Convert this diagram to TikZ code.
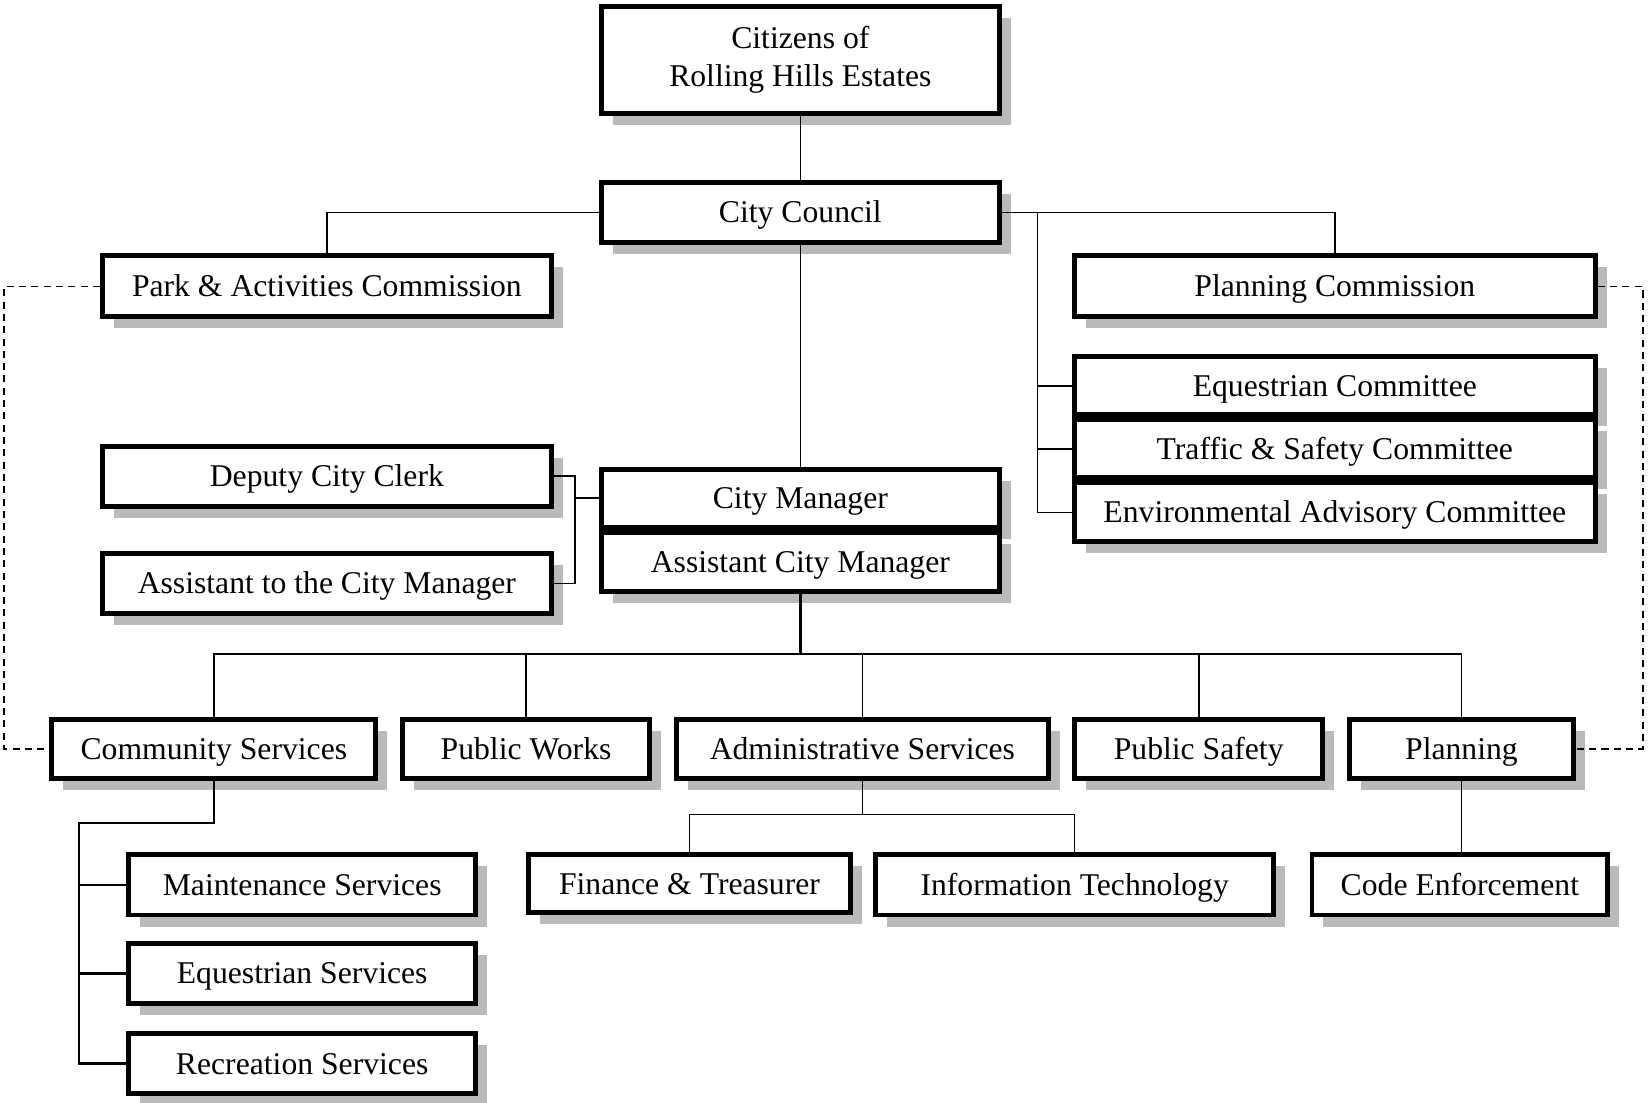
\documentclass[tikz,border=0pt]{standalone}
\usepackage{fontspec}
\setmainfont{Liberation Serif}
\usetikzlibrary{shadows}
\tikzset{
	unit/.style={draw, line width=2.8pt, fill=white, inner sep=0pt, align=center,
		font=\fontsize{18}{21.5}\selectfont, text height=12pt, text depth=0pt,
		drop shadow={shadow xshift=0.23cm, shadow yshift=-0.23cm, fill=black!27, opacity=1}},
	link/.style={line width=0.9pt},
	boldlink/.style={line width=1.5pt},
	dotlink/.style={line width=0.9pt, dash pattern=on 4pt off 3pt},
}

\begin{document}
\begin{tikzpicture}[x=0.021cm, y=-0.021cm]
		%%%%% START %%%%%
		\useasboundingbox (0,0) rectangle (1568,1049);
		
		% council and commissions
		\node[unit, text height=, text depth=, minimum width=7.94cm, minimum height=2.13cm] (citizens) at (761.5, 57) {Citizens of\\Rolling Hills Estates};
		\node[unit, minimum width=7.94cm, minimum height=1.20cm] (council) at (761.5, 202) {City Council};
		\node[unit, minimum width=8.97cm, minimum height=1.22cm] (park) at (311, 272.5) {Park \& Activities Commission};
		\node[unit, minimum width=10.40cm, minimum height=1.22cm] (plancom) at (1270, 272.5) {Planning Commission};
		
		\node[unit, minimum width=10.40cm, minimum height=1.16cm] (eqcom) at (1270, 367) {Equestrian Committee};
		\node[unit, minimum width=10.40cm, minimum height=1.16cm] (trcom) at (1270, 427) {Traffic \& Safety Committee};
		\node[unit, minimum width=10.40cm, minimum height=1.18cm] (envcom) at (1270, 487.5) {Environmental Advisory Committee};
		
		% city manager
		\node[unit, minimum width=8.97cm, minimum height=1.20cm] (clerk) at (311, 453) {Deputy City Clerk};
		\node[unit, minimum width=8.97cm, minimum height=1.20cm] (asst) at (311, 555) {Assistant to the City Manager};
		\node[unit, minimum width=7.94cm, minimum height=1.16cm] (cm) at (761.5, 474) {City Manager};
		\node[unit, minimum width=7.94cm, minimum height=1.18cm] (acm) at (761.5, 534.5) {Assistant City Manager};
		
		% departments
		\node[unit, minimum width=6.47cm, minimum height=1.18cm] (comm) at (203.5, 712.5) {Community Services};
		\node[unit, minimum width=4.92cm, minimum height=1.18cm] (works) at (500.5, 712.5) {Public Works};
		\node[unit, minimum width=7.44cm, minimum height=1.18cm] (admin) at (820.5, 712.5) {Administrative Services};
		\node[unit, minimum width=4.96cm, minimum height=1.18cm] (safety) at (1140.5, 712.5) {Public Safety};
		\node[unit, minimum width=4.46cm, minimum height=1.18cm] (plan) at (1390.5, 712.5) {Planning};
		
		% divisions
		\node[unit, minimum width=6.94cm, minimum height=1.20cm] (maint) at (287.5, 842) {Maintenance Services};
		\node[unit, minimum width=6.94cm, minimum height=1.20cm] (eqserv) at (287.5, 926) {Equestrian Services};
		\node[unit, minimum width=6.94cm, minimum height=1.20cm] (recr) at (287.5, 1012) {Recreation Services};
		\node[unit, minimum width=6.45cm, minimum height=1.16cm] (fin) at (656, 841) {Finance \& Treasurer};
		\node[unit, minimum width=7.94cm, minimum height=1.20cm] (it) at (1022.5, 842) {Information Technology};
		\node[unit, minimum width=5.91cm, minimum height=1.20cm] (code) at (1389, 842) {Code Enforcement};
		
		% junctions
		\coordinate (cj) at (987, 202);
		\coordinate (dj) at (547, 474);
		\coordinate (bus) at (761.5, 622);
		\coordinate (csj) at (75, 783);
		\coordinate (aj) at (820.5, 775);
		\coordinate (dl) at (4, 272.5);
		\coordinate (dr) at (1563, 272.5);
		
		\draw[link] (citizens) -- (council);
		\draw[link] (council.west) -| (park.north);
		\draw[link] (council.east) -| (plancom.north);
		\draw[link] (cj) |- (envcom.west);
		\draw[link] (cj |- eqcom.west) -- (eqcom.west);
		\draw[link] (cj |- trcom.west) -- (trcom.west);
		\draw[link] (council) -- (cm);
		
		\draw[link] (clerk.east) -| (dj) |- (asst.east);
		\draw[link] (dj) -- (cm.west);
		
		\draw[boldlink] (acm.south) -- (bus);
		\draw[link] (comm.north) |- (bus) -| (plan.north);
		\foreach \n in {works, admin, safety}
			\draw[link] (\n.north) -- (\n.north |- bus);
		
		\draw[boldlink] (comm.south) |- (csj) |- (recr.west);
		\draw[boldlink] (csj |- maint.west) -- (maint.west);
		\draw[boldlink] (csj |- eqserv.west) -- (eqserv.west);
		
		\draw[link] (admin.south) -- (aj);
		\draw[link] (fin.north) |- (aj) -| (it.north);
		\draw[link] (plan.south) -- (plan.south |- code.north);
		
		\draw[dotlink] (park.west) -- (dl) |- (comm.west);
		\draw[dotlink] (plancom.east) -- (dr) |- (plan.east);
		
		%%%%% END %%%%%
\end{tikzpicture}
\end{document}
